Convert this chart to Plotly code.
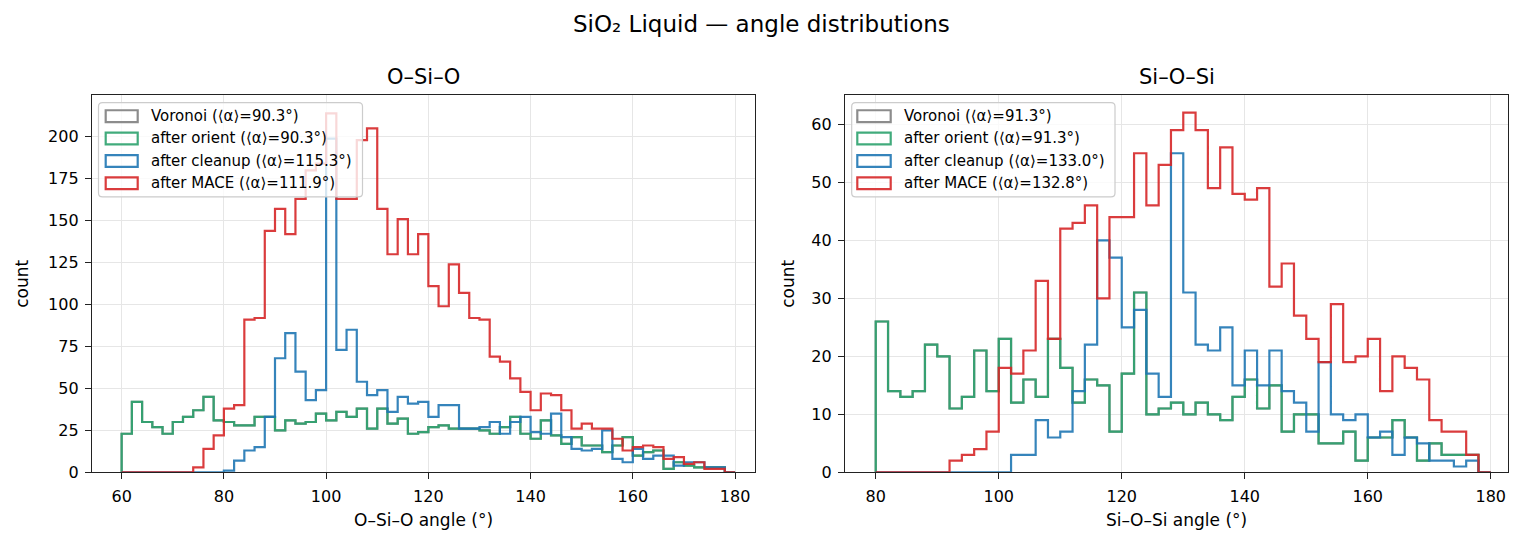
import plotly.graph_objects as go

# ---------------- data ----------------
osio_edges = list(range(60, 182, 2))          # 60..180, 2-degree bins
osio_orient = [23, 42, 30, 27, 23, 30, 33, 37, 45, 31,
               30, 28, 28, 33, 33, 25, 31, 29, 30, 35,
               31, 36, 33, 38, 26, 38, 29, 32, 23, 24,
               27, 28, 26, 26, 26, 25, 23, 27, 33, 23,
               20, 31, 22, 17, 21, 16, 16, 12, 16, 21,
               10, 12, 13, 2, 6, 4, 3, 3, 3, 0]
osio_voronoi = list(osio_orient)
osio_cleanup = [0, 0, 0, 0, 0, 0, 0, 0, 0, 0,
                1, 7, 13, 15, 33, 68, 83, 60, 43, 49,
                199, 73, 85, 54, 46, 49, 36, 45, 41, 42,
                33, 40, 40, 26, 26, 27, 30, 23, 30, 33,
                24, 23, 35, 21, 14, 13, 14, 25, 8, 6,
                14, 8, 10, 10, 4, 6, 6, 3, 3, 0]
osio_mace = [0, 0, 0, 0, 0, 0, 0, 3, 14, 22,
             38, 40, 91, 92, 144, 157, 142, 163, 180, 184,
             214, 163, 163, 198, 205, 157, 130, 151, 130, 142,
             111, 99, 124, 107, 92, 91, 69, 66, 56, 48,
             37, 47, 46, 37, 26, 29, 26, 26, 20, 13,
             15, 16, 15, 8, 9, 5, 6, 2, 2, 0]

sios_edges = list(range(80, 182, 2))          # 80..180, 2-degree bins
sios_orient = [26, 14, 13, 14, 22, 20, 11, 13, 21, 14,
               23, 12, 16, 13, 23, 18, 12, 16, 15, 7,
               17, 31, 10, 11, 12, 10, 12, 10, 9, 13,
               16, 11, 15, 7, 10, 10, 5, 5, 7, 2,
               6, 6, 9, 6, 2, 5, 3, 3, 3, 0]
sios_voronoi = list(sios_orient)
sios_cleanup = [0, 0, 0, 0, 0, 0, 0, 0, 0, 0,
                0, 3, 3, 9, 6, 7, 14, 22, 40, 37,
                25, 28, 17, 13, 55, 31, 22, 21, 25, 15,
                21, 15, 21, 14, 12, 7, 19, 10, 9, 10,
                6, 7, 3, 6, 5, 2, 2, 1, 2, 0]
sios_mace = [0, 0, 0, 0, 0, 0, 2, 3, 4, 7,
             18, 17, 21, 33, 23, 42, 43, 46, 30, 44,
             44, 55, 46, 53, 59, 62, 59, 49, 56, 48,
             47, 49, 32, 36, 27, 23, 19, 29, 19, 20,
             23, 14, 20, 18, 16, 9, 7, 7, 3, 0]

series_names = ["Voronoi", "after orient", "after cleanup", "after MACE"]
osio_means = ["90.3", "90.3", "115.3", "111.9"]
sios_means = ["91.3", "91.3", "133.0", "132.8"]
series_colors = ["rgba(128,128,128,0.9)", "rgba(44,162,110,0.9)",
                 "rgba(31,119,180,0.9)", "rgba(214,39,40,0.9)"]

# ---------------- layout helpers ----------------
W, H = 1522, 554
FONT = "DejaVu Sans"


def fx(p):
    return p / W


def fy(p):
    return 1 - p / H


AX_T, AX_B = 97, 481
LEFT = (92, 755)
RIGHT = (845, 1508)

fig = go.Figure()


def step_xy(edges, counts):
    xs = [edges[0]] + list(edges)
    ys = [0] + list(counts) + [0]
    return xs, ys


panels = [
    ("x", "y", osio_edges, [osio_voronoi, osio_orient, osio_cleanup, osio_mace]),
    ("x2", "y2", sios_edges, [sios_voronoi, sios_orient, sios_cleanup, sios_mace]),
]
for xa, ya, edges, sets in panels:
    for name, col, counts in zip(series_names, series_colors, sets):
        xs, ys = step_xy(edges, counts)
        fig.add_trace(go.Scatter(x=xs, y=ys, mode="lines", line_shape="hv",
                                 line=dict(color=col, width=2.2),
                                 xaxis=xa, yaxis=ya, showlegend=False,
                                 hoverinfo="skip", name=name))

axis_common = dict(showline=True, mirror=True, linecolor="#222222", linewidth=1.3,
                   ticks="outside", ticklen=6, tickwidth=1.3, tickcolor="#222222",
                   showgrid=True, gridcolor="#e6e6e6", gridwidth=1.3,
                   zeroline=False, ticklabelstandoff=3,
                   tickfont=dict(family=FONT, size=16, color="#000"))

fig.update_layout(
    width=W, height=H, autosize=False,
    margin=dict(l=0, r=0, t=0, b=0),
    paper_bgcolor="white", plot_bgcolor="white",
    font=dict(family=FONT, color="#000"),
    xaxis=dict(domain=[fx(LEFT[0]), fx(LEFT[1])], range=[54.2, 183.9],
               tickvals=[60, 80, 100, 120, 140, 160, 180], anchor="y", **axis_common),
    yaxis=dict(domain=[fy(AX_B), fy(AX_T)], range=[0, 224.8],
               tickvals=[0, 25, 50, 75, 100, 125, 150, 175, 200], anchor="x", **axis_common),
    xaxis2=dict(domain=[fx(RIGHT[0]), fx(RIGHT[1])], range=[75.0, 182.8],
                tickvals=[80, 100, 120, 140, 160, 180], anchor="y2", **axis_common),
    yaxis2=dict(domain=[fy(AX_B), fy(AX_T)], range=[0, 65.0],
                tickvals=[0, 10, 20, 30, 40, 50, 60], anchor="x2", **axis_common),
)

ann = []


def text(x, y, s, size, angle=0, xanchor="center"):
    ann.append(dict(x=fx(x), y=fy(y), xref="paper", yref="paper", text=s,
                    showarrow=False, xanchor=xanchor, yanchor="middle",
                    textangle=angle, font=dict(family=FONT, size=size, color="#000")))


text(761, 24, "SiO₂ Liquid — angle distributions", 23)
text((LEFT[0] + LEFT[1]) / 2, 78, "O–Si–O", 21)
text((RIGHT[0] + RIGHT[1]) / 2, 78, "Si–O–Si", 21)
text((LEFT[0] + LEFT[1]) / 2, 530, "O–Si–O angle (°)", 17)
text((RIGHT[0] + RIGHT[1]) / 2, 530, "Si–O–Si angle (°)", 17)
text(22, (AX_T + AX_B) / 2, "count", 17, angle=-90)
text(788, (AX_T + AX_B) / 2, "count", 17, angle=-90)

shapes = []


def rounded_box(x0, y0, x1, y1, r=4):
    X0, X1 = fx(x0), fx(x1)
    Y0, Y1 = fy(y0), fy(y1)
    rx, ry = r / W, r / H
    path = (f"M{X0+rx},{Y0} L{X1-rx},{Y0} Q{X1},{Y0} {X1},{Y0-ry} "
            f"L{X1},{Y1+ry} Q{X1},{Y1} {X1-rx},{Y1} L{X0+rx},{Y1} "
            f"Q{X0},{Y1} {X0},{Y1+ry} L{X0},{Y0-ry} Q{X0},{Y0} {X0+rx},{Y0} Z")
    shapes.append(dict(type="path", path=path, xref="paper", yref="paper",
                       fillcolor="rgba(255,255,255,0.8)",
                       line=dict(color="#cccccc", width=1.2), layer="above"))


def legend(box_x0, box_x1, patch_x0, patch_x1, text_x, means):
    rows = [118.3, 141.0, 164.0, 186.7]
    rounded_box(box_x0, 104.5, box_x1, 200.5)
    for name, col, m, yc in zip(series_names, series_colors, means, rows):
        shapes.append(dict(type="rect", xref="paper", yref="paper",
                           x0=fx(patch_x0), x1=fx(patch_x1), y0=fy(yc + 6), y1=fy(yc - 6),
                           fillcolor="rgba(0,0,0,0)", line=dict(color=col, width=2.2),
                           layer="above"))
        text(text_x, yc, f"{name} (⟨α⟩={m}°)", 15, xanchor="left")


legend(98.5, 362.5, 105.7, 137.7, 149.3, osio_means)
legend(851.7, 1115.0, 857.3, 890.7, 902.3, sios_means)

fig.update_layout(annotations=ann, shapes=shapes)
fig.write_html("out.html")
